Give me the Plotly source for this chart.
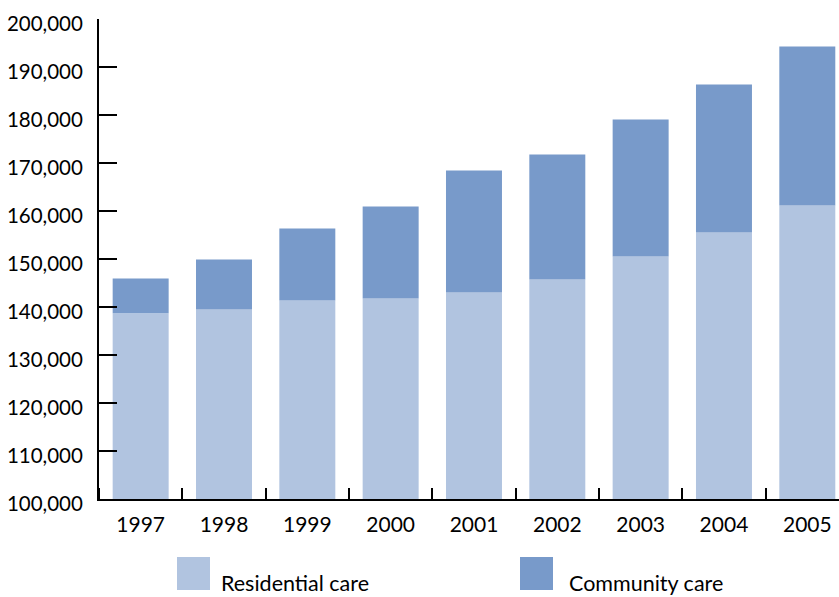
import plotly.graph_objects as go

# Care recipients by year, split into residential and community care
years = ["1997", "1998", "1999", "2000", "2001", "2002", "2003", "2004", "2005"]
residential = [138700, 139500, 141350, 141750, 143000, 145750, 150500, 155500, 161150]
total = [145950, 149900, 156350, 160950, 168450, 171750, 179050, 186350, 194250]
community = [t - r for t, r in zip(total, residential)]

y_ticks = list(range(100000, 200001, 10000))
y_tick_text = [f"{v:,}" for v in y_ticks]

RES_COLOR = "#B1C4E0"
COM_COLOR = "#789ACA"
FONT = "Lato, 'Open Sans', sans-serif"

W, H = 839, 597
L, T, B = 99, 19, 98
plot_w = W - L
plot_h = H - T - B
cat_px = 83.33

x = list(range(len(years)))

fig = go.Figure()
fig.add_trace(go.Bar(x=x, y=[r - 100000 for r in residential], base=100000,
                     marker=dict(color=RES_COLOR, line=dict(width=0)),
                     name="Residential care", width=0.672))
fig.add_trace(go.Bar(x=x, y=community, base=residential,
                     marker=dict(color=COM_COLOR, line=dict(width=0)),
                     name="Community care", width=0.672))

fig.update_layout(
    width=W, height=H,
    margin=dict(l=L, r=0, t=T, b=B),
    plot_bgcolor="white", paper_bgcolor="white",
    barmode="overlay", showlegend=False,
    font=dict(family=FONT, color="black"),
)

fig.update_xaxes(
    range=[-0.5, -0.5 + plot_w / cat_px],
    tickmode="array", tickvals=x, ticktext=years,
    ticks="", showgrid=False, zeroline=False,
    showline=True, linecolor="black", linewidth=2,
    tickfont=dict(size=21, family=FONT, color="black"),
    ticklabelstandoff=6,
    minor=dict(tickmode="array", tickvals=[i - 0.5 for i in x],
               ticks="inside", ticklen=11, tickwidth=1.5, tickcolor="black",
               showgrid=False),
)

fig.update_yaxes(
    range=[100000, 200000],
    tickmode="array", tickvals=y_ticks, ticktext=y_tick_text,
    ticks="inside", ticklen=18, tickwidth=1.5, tickcolor="black",
    showgrid=False, zeroline=False,
    showline=True, linecolor="black", linewidth=2,
    tickfont=dict(size=20.5, family=FONT, color="black"),
    ticklabelstandoff=10,
    ticklabelshift=5,
)

# Legend drawn below the axis: swatch squares with labels
def px_x(p):
    return (p - L) / plot_w

def px_y(p):
    return (T + plot_h - p) / plot_h

legend_items = [("Residential care", RES_COLOR, 177, 219),
                ("Community care", COM_COLOR, 520, 567)]
for label, color, sx, tx in legend_items:
    fig.add_shape(type="rect", xref="paper", yref="paper",
                  x0=px_x(sx), x1=px_x(sx + 33), y0=px_y(590), y1=px_y(557),
                  fillcolor=color, line=dict(width=0))
    fig.add_annotation(xref="paper", yref="paper", x=px_x(tx), y=px_y(583),
                       xanchor="left", yanchor="middle", showarrow=False,
                       text=label, font=dict(size=21.5, family=FONT, color="black"))

fig.write_html("out.html")
